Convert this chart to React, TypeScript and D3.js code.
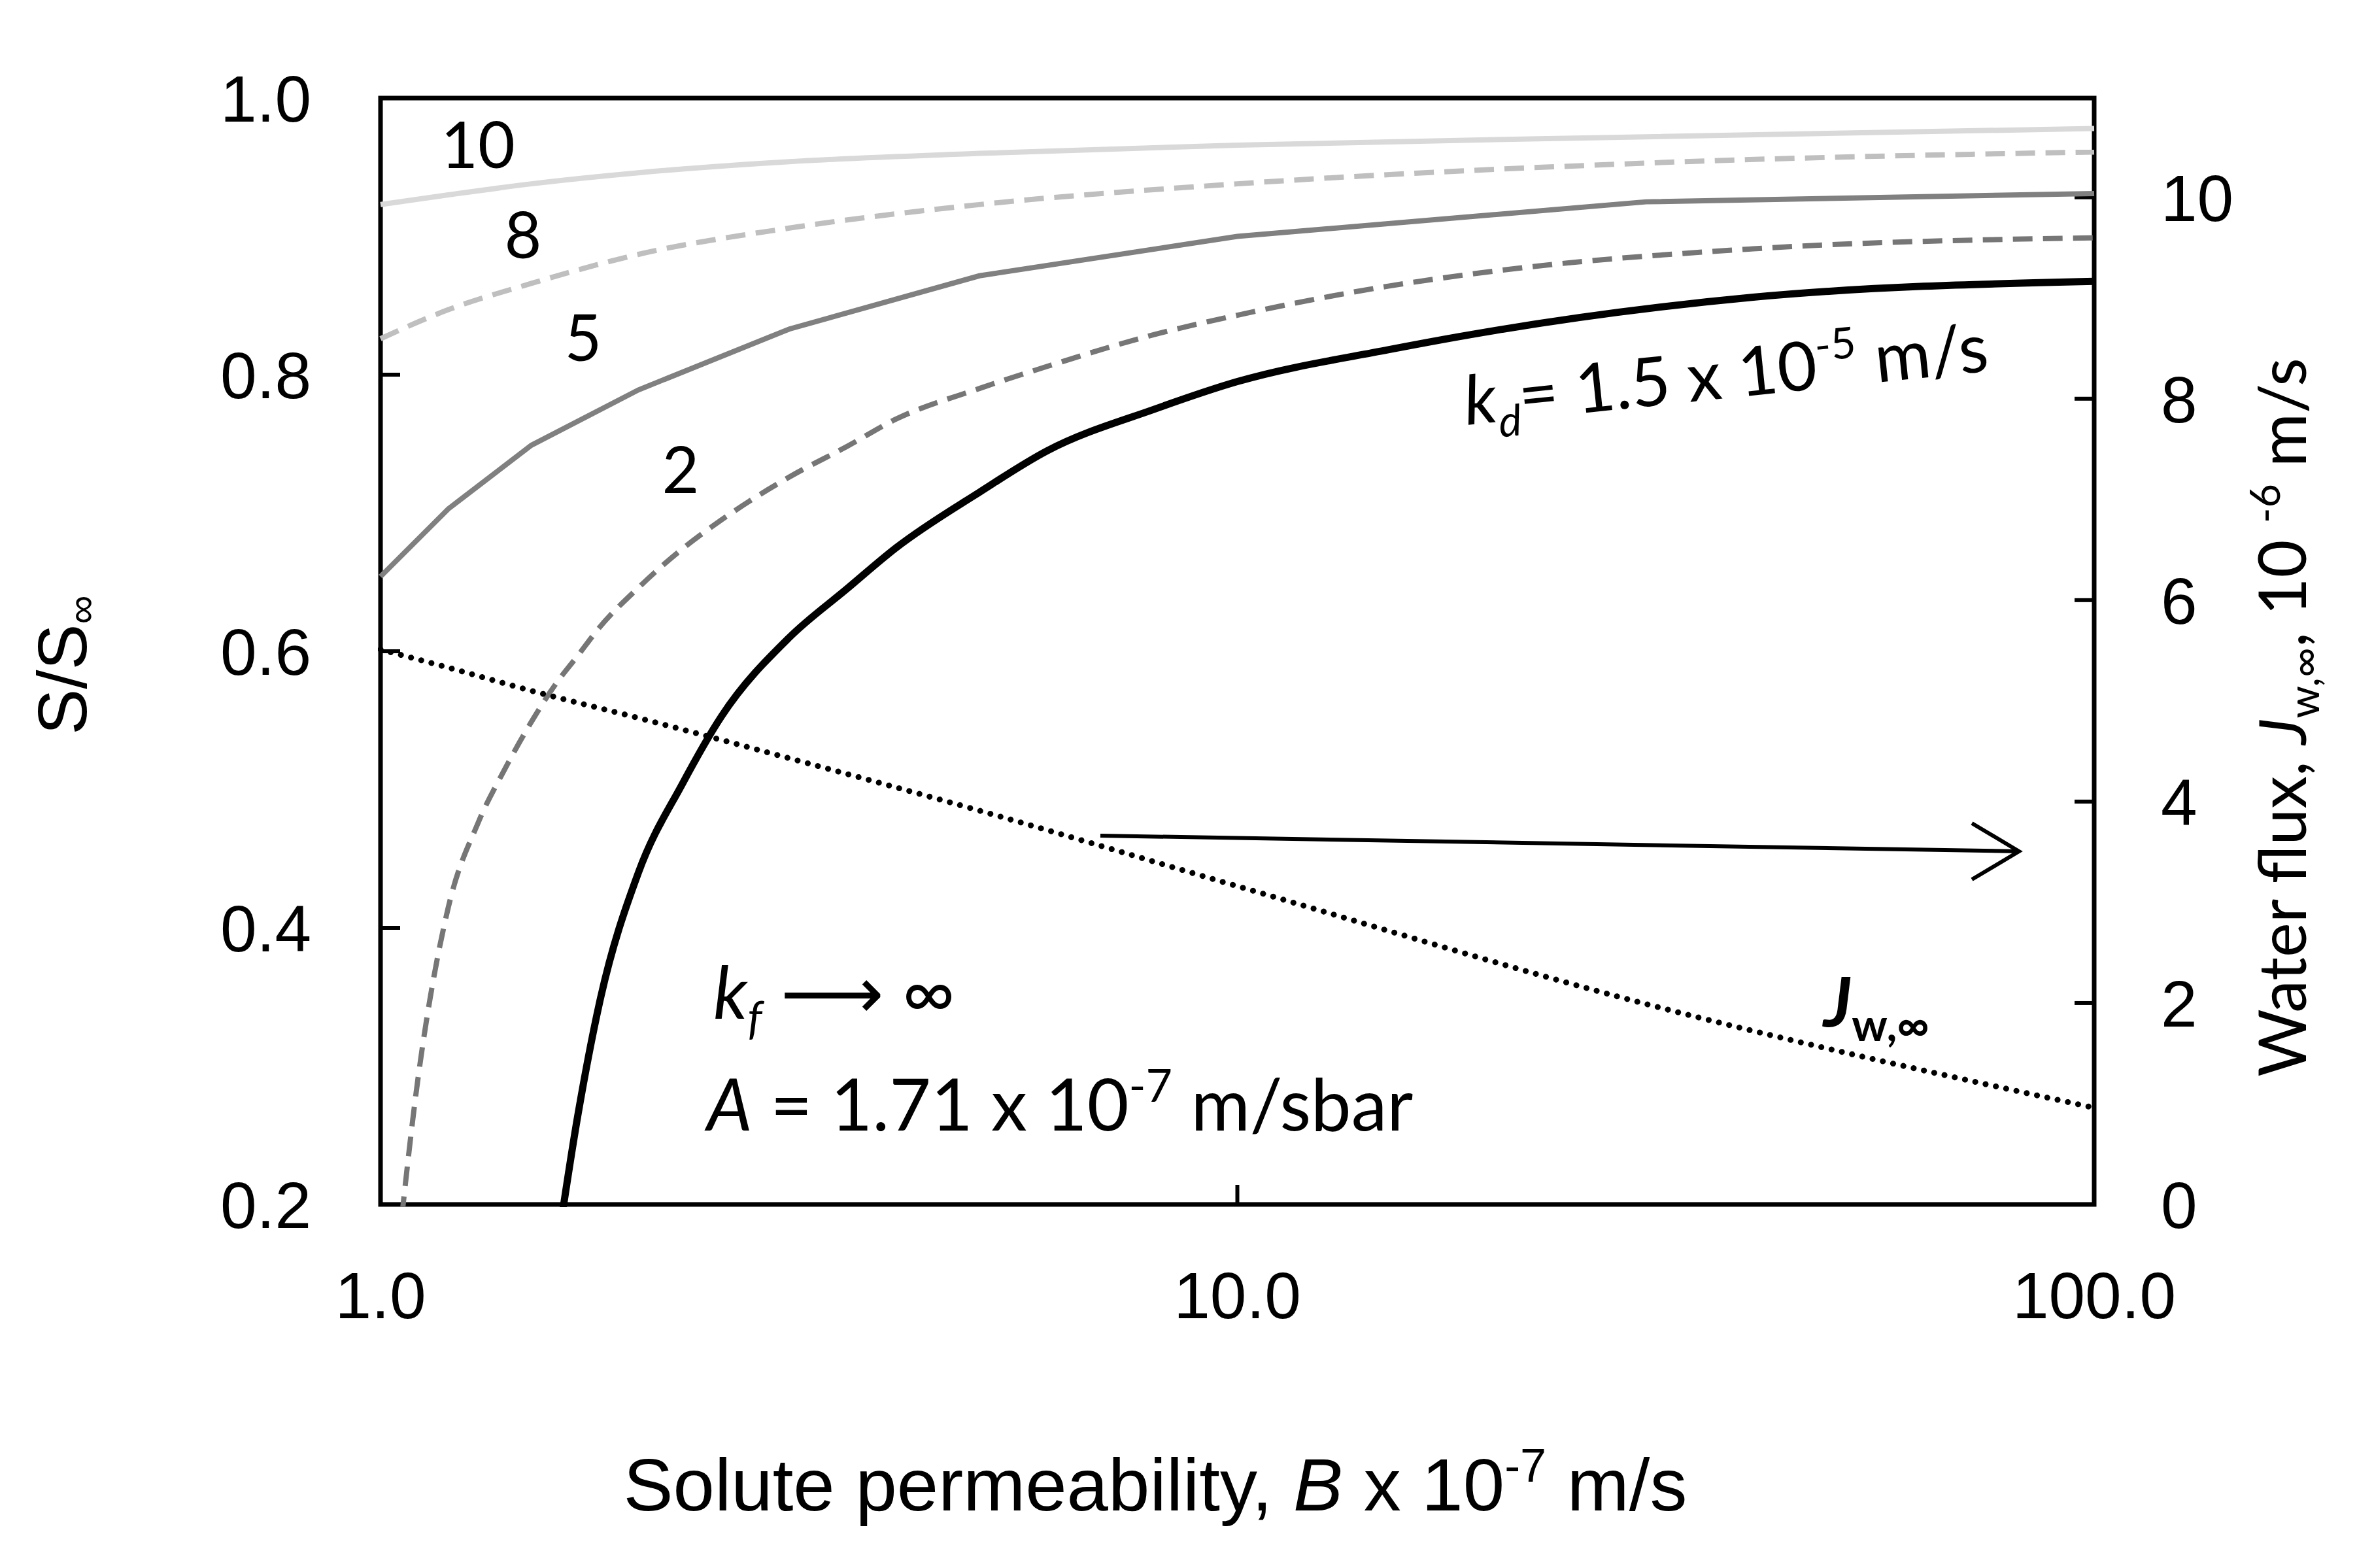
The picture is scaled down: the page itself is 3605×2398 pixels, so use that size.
import * as d3 from 'd3';

// solute permeability B (x 1e-7 m/s) sample points
const bCoarse = [1, 1.2, 1.5, 2, 3, 5, 10, 30, 100];
const bFine = [1.05, 1.1, 1.2, 1.3, 1.4, 1.5, 1.6, 1.7, 1.8, 2, 2.25, 2.5, 3, 3.5, 4, 5, 6, 8, 10, 15, 20, 40, 100];

// S/S_inf for each curve (label = parameter value)
const s10 = [0.923, 0.93, 0.938, 0.946, 0.954, 0.96, 0.966, 0.972, 0.978];
const s8 = [0.826, 0.847, 0.866, 0.887, 0.906, 0.923, 0.938, 0.953, 0.961];
const s5 = [0.654, 0.703, 0.749, 0.789, 0.833, 0.8715, 0.9, 0.925, 0.931];
const s2 = [0.17, 0.28, 0.415, 0.476, 0.516, 0.549, 0.576, 0.597, 0.617, 0.646, 0.674, 0.695, 0.726, 0.748, 0.768, 0.79, 0.806, 0.829, 0.843, 0.864, 0.875, 0.891, 0.899];
const sKd = [null, null, null, null, null, null, 0.16, 0.265, 0.345, 0.44, 0.504, 0.553, 0.61, 0.645, 0.675, 0.715, 0.745, 0.775, 0.795, 0.818, 0.832, 0.856, 0.8675];

// water flux Jw,inf (x 1e-6 m/s), right axis
const jw = [5.51, 5.33, 5.1, 4.83, 4.43, 3.91, 3.16, 1.99, 0.96];

const leftTicks = [0.2, 0.4, 0.6, 0.8, 1.0];
const rightTicks = [0, 2, 4, 6, 8, 10];
const xTicks = [1, 10, 100];

const W = 3605;
const H = 2398;
const L = 582, R = 3203, T = 150, B = 1842;
const TICK = 30;
const ARIAL = 'Liberation Sans, Arial, sans-serif';
const CAL = 'Lato, Carlito, sans-serif';

type Pt = [number, number | null];

export default function App() {
  const x = d3.scaleLog().domain([1, 100]).range([L, R]);
  const yL = d3.scaleLinear().domain([0.2, 1.0]).range([B, T]);
  const yR = d3.scaleLinear().domain([0, 11]).range([B, B - (B - T) * (11 / 10.985)]);

  const mkLine = (smooth: boolean) =>
    d3
      .line<Pt>()
      .defined((d) => d[1] !== null)
      .x((d) => x(d[0]))
      .y((d) => yL(d[1] as number))
      .curve(smooth ? d3.curveMonotoneX : d3.curveLinear);
  const smoothL = mkLine(true);
  const straightL = mkLine(false);
  const lineR = d3
    .line<Pt>()
    .x((d) => x(d[0]))
    .y((d) => yR(d[1] as number))
    .curve(d3.curveMonotoneX);

  const zip = (xs: number[], ys: (number | null)[]): Pt[] => xs.map((b, i) => [b, ys[i]]);

  const series = [
    { d: smoothL(zip(bCoarse, s10)), stroke: '#d9d9d9', w: 8, dash: undefined },
    { d: smoothL(zip(bCoarse, s8)), stroke: '#bfbfbf', w: 8, dash: '30 16' },
    { d: straightL(zip(bCoarse, s5)), stroke: '#808080', w: 8, dash: undefined },
    { d: smoothL(zip(bFine, s2)), stroke: '#767676', w: 8, dash: '30 16' },
    { d: smoothL(zip(bFine, sKd)), stroke: '#000000', w: 11, dash: undefined },
  ];

  const fmt = d3.format('.1f');

  return (
    <>
      <style>{`body{margin:0}`}</style>
      <svg width={W} height={H} style={{ display: 'block', background: '#fff' }}>
        <defs>
          <clipPath id="plot">
            <rect x={L - 4} y={T - 4} width={R - L + 8} height={B - T + 8} />
          </clipPath>
        </defs>

        {/* frame */}
        <rect x={L} y={T} width={R - L} height={B - T} fill="none" stroke="#000" strokeWidth={7} />

        {/* left ticks */}
        {leftTicks.map((v) => (
          <g key={'l' + v}>
            <line x1={L} x2={L + TICK} y1={yL(v)} y2={yL(v)} stroke="#000" strokeWidth={6} />
            <text x={476} y={yL(v)} dy="0.36em" textAnchor="end" fontFamily={ARIAL} fontSize={100}>
              {fmt(v)}
            </text>
          </g>
        ))}

        {/* right ticks */}
        {rightTicks.map((v) => (
          <g key={'r' + v}>
            <line x1={R} x2={R - TICK} y1={yR(v)} y2={yR(v)} stroke="#000" strokeWidth={6} />
            <text x={3305} y={yR(v)} dy="0.36em" fontFamily={ARIAL} fontSize={100}>
              {v}
            </text>
          </g>
        ))}

        {/* x ticks */}
        {xTicks.map((v) => (
          <g key={'x' + v}>
            <line x1={x(v)} x2={x(v)} y1={B} y2={B - TICK} stroke="#000" strokeWidth={6} />
            <text x={x(v)} y={2016} textAnchor="middle" fontFamily={ARIAL} fontSize={100}>
              {fmt(v)}
            </text>
          </g>
        ))}

        {/* curves */}
        <g clipPath="url(#plot)" fill="none">
          {series.map((s, i) => (
            <path key={i} d={s.d || ''} stroke={s.stroke} strokeWidth={s.w} strokeDasharray={s.dash} />
          ))}
          <path
            d={lineR(zip(bCoarse, jw)) || ''}
            stroke="#000"
            strokeWidth={9}
            strokeDasharray="0.1 16"
            strokeLinecap="round"
          />
        </g>

        {/* curve labels */}
        <g fontFamily={CAL} fontSize={98} textAnchor="middle">
          <text x={731} y={257}>10</text>
          <text x={800} y={395}>8</text>
          <text x={892} y={552}>5</text>
          <text x={1041} y={754}>2</text>
        </g>

        {/* kd label */}
        <text transform="translate(2243,650) rotate(-5.9)" fontFamily={CAL} fontSize={104}>
          <tspan fontStyle="italic">k</tspan>
          <tspan fontStyle="italic" fontSize={66} dy={24}>d</tspan>
          <tspan dy={-24}>= 1.5 x 10</tspan>
          <tspan fontSize={66} dy={-42}>-5</tspan>
          <tspan dy={42}> m/s</tspan>
        </text>

        {/* arrow toward right axis */}
        <g stroke="#000" strokeWidth={6} fill="none">
          <line x1={1683} y1={1278} x2={3088} y2={1302} />
          <polyline points="3016,1259 3088,1302 3016,1345" />
        </g>

        {/* Jw label */}
        <text x={2789} y={1570} fontFamily={CAL} fontSize={106} fontWeight="bold">
          <tspan fontStyle="italic">J</tspan>
          <tspan fontSize={68} dy={22}>w,∞</tspan>
        </text>

        {/* conditions */}
        <text x={1091} y={1557} fontFamily={CAL} fontSize={110}>
          <tspan fontStyle="italic">k</tspan>
          <tspan fontStyle="italic" fontSize={70} dy={24}>f</tspan>
          <tspan dy={-24}> ⟶ ∞</tspan>
        </text>
        <text x={1081} y={1729} fontFamily={CAL} fontSize={110}>
          <tspan fontStyle="italic">A</tspan>
          <tspan> = 1.71 x 10</tspan>
          <tspan fontSize={70} dy={-44}>-7</tspan>
          <tspan dy={44}> m/sbar</tspan>
        </text>

        {/* axis titles */}
        <text x={1767} y={2310} textAnchor="middle" fontFamily={ARIAL} fontSize={114}>
          Solute permeability, <tspan fontStyle="italic">B</tspan> x 10
          <tspan fontSize={72} dy={-44}>-7</tspan>
          <tspan dy={44}> m/s</tspan>
        </text>
        <text transform="translate(132,1017) rotate(-90)" textAnchor="middle" fontFamily={ARIAL} fontSize={105}>
          S/S<tspan fontSize={62} dy={14}>∞</tspan>
        </text>
        <text transform="translate(3527,1097) rotate(-90)" textAnchor="middle" fontFamily={CAL} fontSize={100}>
          Water flux, <tspan fontStyle="italic">J</tspan>
          <tspan fontSize={63} dy={20}>w,∞</tspan>
          <tspan dy={-20}>, 10 </tspan>
          <tspan fontSize={63} dy={-40}>-6</tspan>
          <tspan dy={40}> m/s</tspan>
        </text>
      </svg>
    </>
  );
}
